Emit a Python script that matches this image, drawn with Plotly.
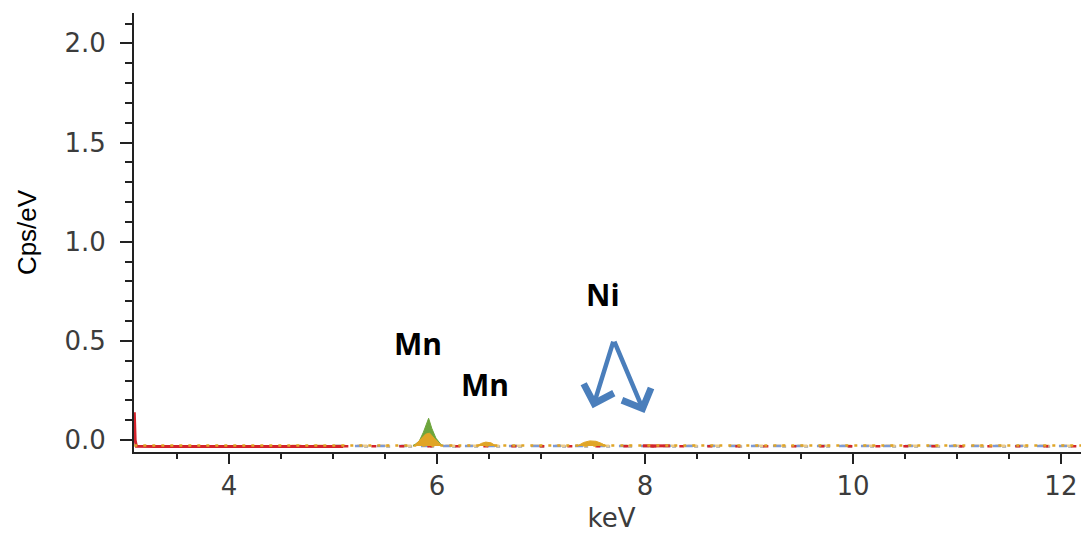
import plotly.graph_objects as go

# ---------------- data (keV, Cps/eV) ----------------
x_range = [3.087, 12.27]
y_range = [-0.06, 2.153]
x_major = [4, 6, 8, 10, 12]
x_major_text = ["4", "6", "8", "10", "12"]
y_major = [0.0, 0.5, 1.0, 1.5, 2.0]
y_major_text = ["0.0", "0.5", "1.0", "1.5", "2.0"]

# red series: steep edge at the left + solid low-energy baseline
red_solid_keV = [3.090, 3.094, 3.098, 3.110, 3.30, 5.10]
red_solid_cps = [0.14, 0.07, 0.0, -0.031, -0.032, -0.032]
red_dash_keV = [5.10, 12.27]
red_dash_cps = [-0.031, -0.031]
red_seg_keV = [7.98, 8.10, 8.24]
red_seg_cps = [-0.029, -0.029, -0.029]

# orange series baseline + peaks (Mn Ka, Mn Kb, Ni Ka)
orange_base_keV = [3.09, 12.27]
orange_base_cps = [-0.027, -0.027]
orange_mnka_keV = [5.78, 5.84, 5.89, 5.93, 5.98, 6.05]
orange_mnka_cps = [-0.03, 0.0, 0.03, 0.035, 0.005, -0.03]
orange_mnkb_keV = [6.38, 6.43, 6.47, 6.52, 6.57]
orange_mnkb_cps = [-0.03, -0.016, -0.010, -0.014, -0.03]
orange_ni_keV = [7.35, 7.41, 7.47, 7.53, 7.58, 7.63]
orange_ni_cps = [-0.03, -0.012, -0.004, -0.006, -0.016, -0.03]

# green series: Mn Ka peak
green_keV = [5.77, 5.83, 5.87, 5.90, 5.92, 5.95, 5.99, 6.05]
green_cps = [-0.03, -0.005, 0.04, 0.085, 0.11, 0.06, 0.01, -0.03]

# other baseline series
blue_keV = [5.0, 12.27]
blue_cps = [-0.030, -0.030]
pale_keV = [4.6, 12.27]
pale_cps = [-0.028, -0.028]
gray_keV = [5.3, 12.27]
gray_cps = [-0.032, -0.032]

labels = [
    dict(text="Mn", x=5.815, y=0.489),
    dict(text="Mn", x=6.46, y=0.282),
    dict(text="Ni", x=7.60, y=0.736),
]
arrow_tail = (7.70, 0.504)
arrow_heads = [(7.497, 0.161), (7.996, 0.136)]

RED = "#D3232B"
ORANGE = "#E0A526"
GREEN = "#6DA53C"
BLUE = "#7E9BD6"
PALE = "#EBCB8B"
GRAY = "#A5A5A5"

fig = go.Figure()


def line(x, y, color, width=2.5, dash="solid"):
    fig.add_trace(go.Scatter(x=x, y=y, mode="lines",
                             line=dict(color=color, width=width, dash=dash),
                             hoverinfo="skip", showlegend=False))


def peak(x, y, color):
    fig.add_trace(go.Scatter(x=x, y=y, mode="lines", fill="toself",
                             fillcolor=color, line=dict(color=color, width=1),
                             hoverinfo="skip", showlegend=False))


line(gray_keV, gray_cps, GRAY, 2.5, "4px,18px")
line(pale_keV, pale_cps, PALE, 2.5, "10px,12px")
line(blue_keV, blue_cps, BLUE, 2.5, "8px,14px")
line(red_dash_keV, red_dash_cps, RED, 2.5, "5px,23px")
line(red_solid_keV, red_solid_cps, RED, 3)
line(red_seg_keV, red_seg_cps, RED, 3)
line(orange_base_keV, orange_base_cps, ORANGE, 2.5, "3px,6px")
peak(green_keV, green_cps, GREEN)
peak(orange_mnka_keV, orange_mnka_cps, ORANGE)
peak(orange_mnkb_keV, orange_mnkb_cps, ORANGE)
peak(orange_ni_keV, orange_ni_cps, ORANGE)

for lab in labels:
    fig.add_annotation(x=lab["x"], y=lab["y"], text="<b>" + lab["text"] + "</b>",
                       showarrow=False,
                       font=dict(family="Open Sans", size=30, color="black"))

for hx, hy in arrow_heads:
    fig.add_annotation(x=hx, y=hy, ax=arrow_tail[0], ay=arrow_tail[1],
                       xref="x", yref="y", axref="x", ayref="y", text="",
                       showarrow=True, arrowhead=4, arrowsize=1.35,
                       arrowwidth=4.5, arrowcolor="#4A7EBB")

tick_font = dict(family="DejaVu Sans", size=26, color="#3c3c3c")
fig.update_xaxes(range=x_range, tickmode="array", tickvals=x_major,
                 ticktext=x_major_text, ticks="outside", ticklen=10,
                 tickwidth=2, tickcolor="#222", showline=True, linewidth=2,
                 linecolor="#222", showgrid=False, zeroline=False,
                 tickfont=tick_font, ticklabelstandoff=0, automargin=False,
                 minor=dict(dtick=0.5, tick0=0, ticks="outside", ticklen=5,
                            tickwidth=2, tickcolor="#222", showgrid=False),
                 title=dict(text="keV", font=tick_font, standoff=10))
fig.update_yaxes(range=y_range, tickmode="array", tickvals=y_major,
                 ticktext=y_major_text, ticks="outside", ticklen=12,
                 tickwidth=2, tickcolor="#222", showline=True, linewidth=2,
                 linecolor="#222", showgrid=False, zeroline=False,
                 tickfont=tick_font, ticklabelstandoff=9, automargin=False,
                 minor=dict(dtick=0.1, tick0=0, ticks="outside", ticklen=7,
                            tickwidth=2, tickcolor="#222", showgrid=False),
                 title=dict(text="Cps/eV", standoff=20,
                            font=dict(family="Liberation Sans", size=26,
                                      color="black")))

# the page body adds an 8px margin, so the figure is 8px smaller
fig.update_layout(width=1081, height=525,
                  margin=dict(l=126, r=0, t=5, b=81, autoexpand=False),
                  paper_bgcolor="white", plot_bgcolor="white",
                  showlegend=False)

fig.write_html("out.html")
